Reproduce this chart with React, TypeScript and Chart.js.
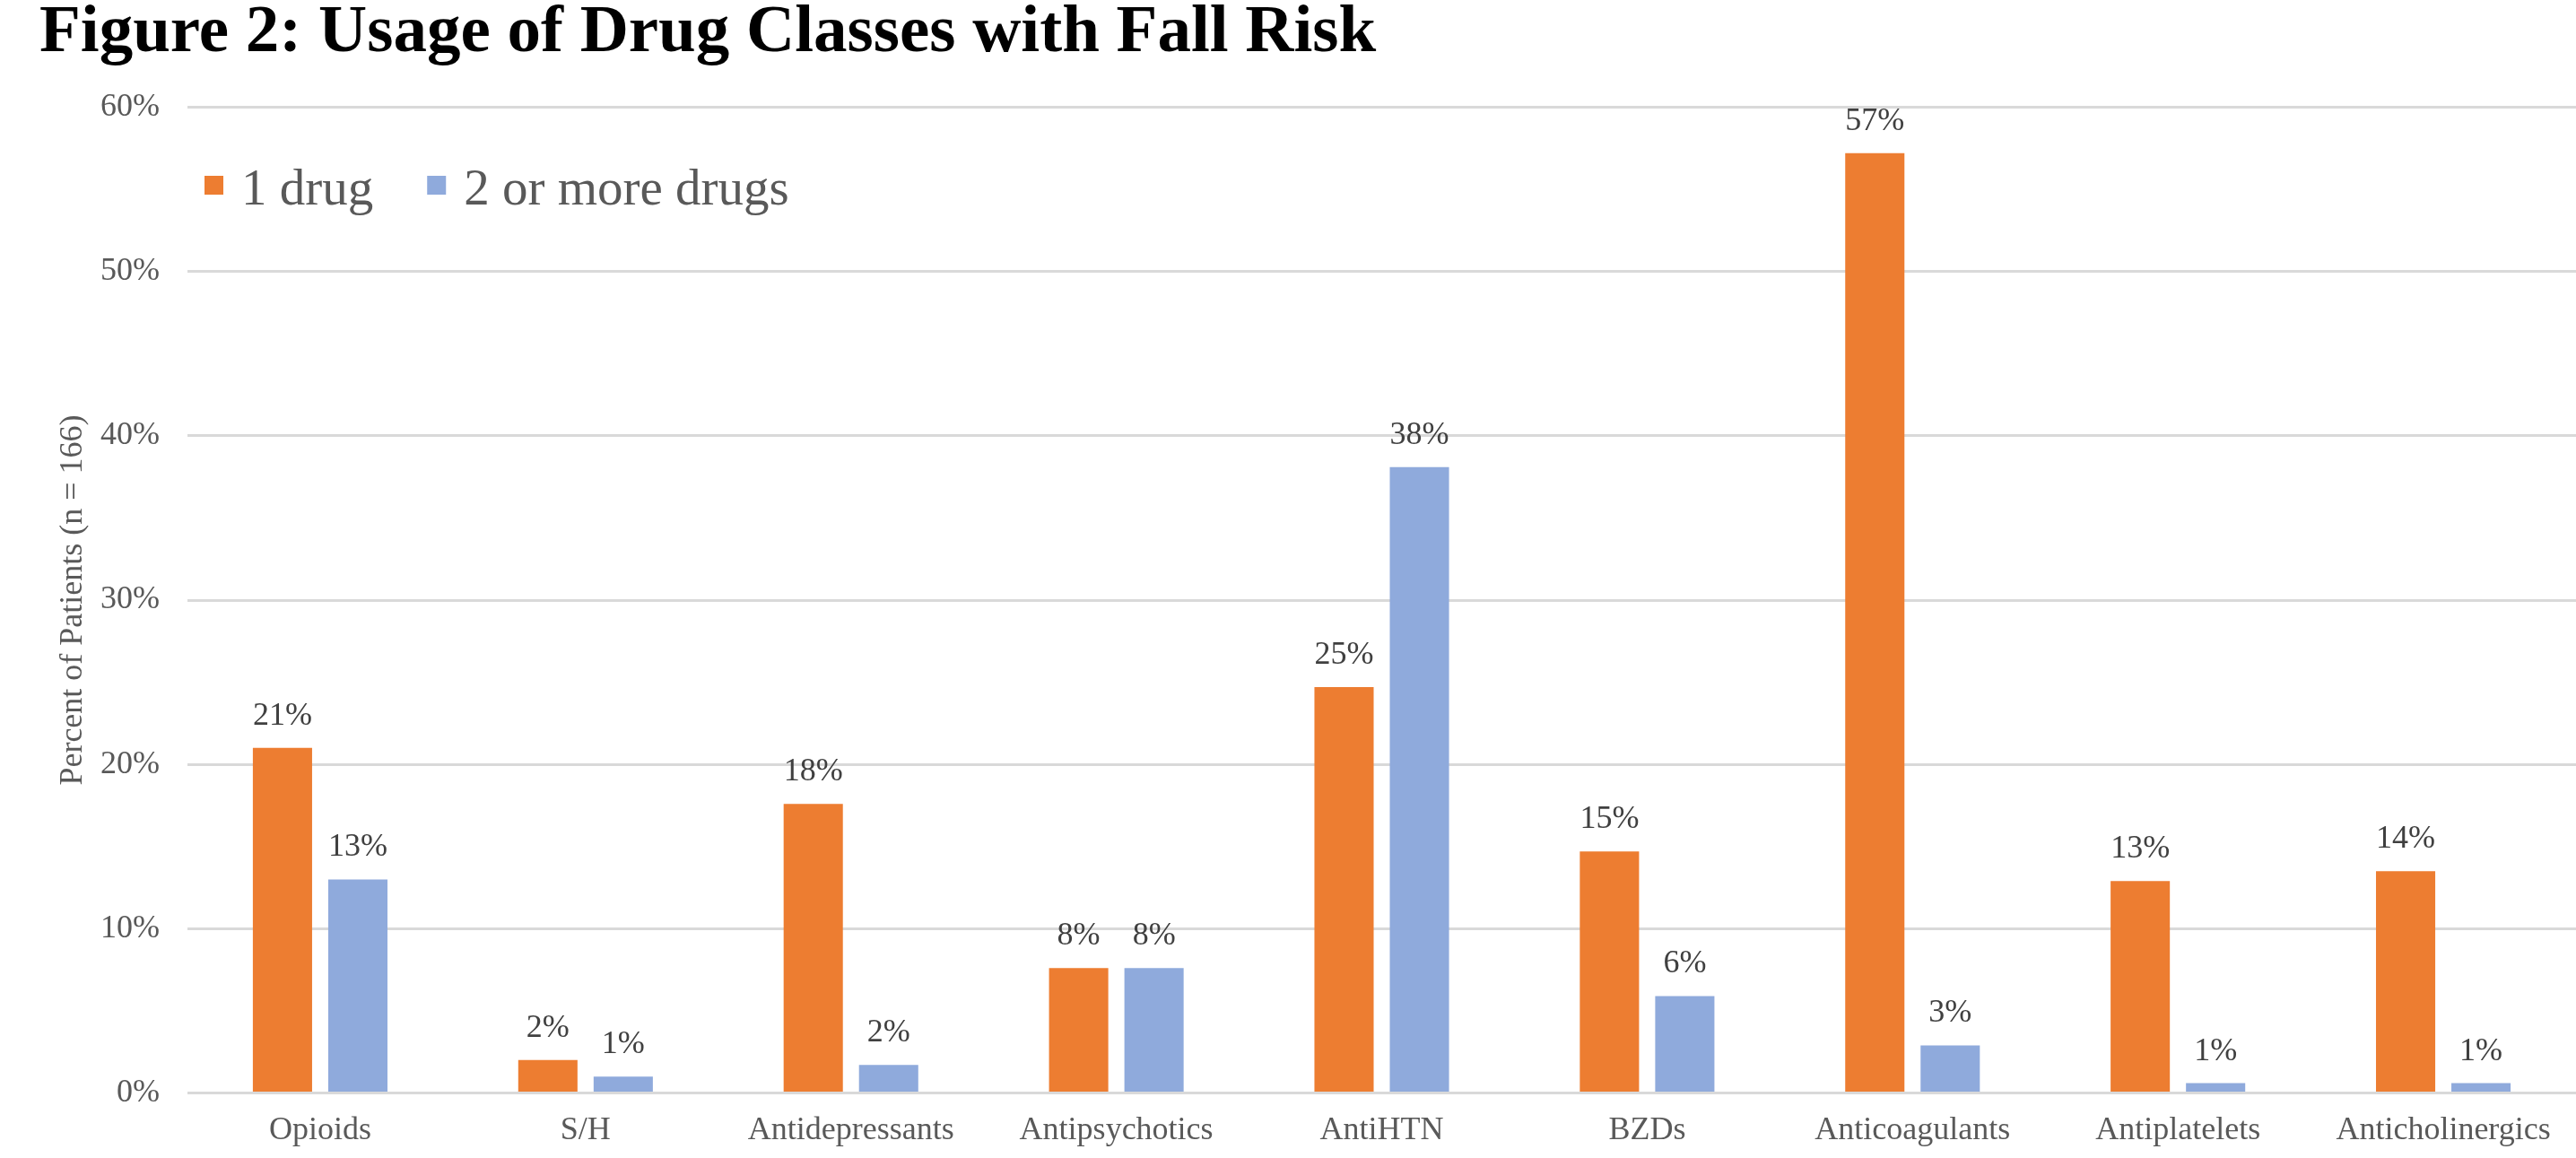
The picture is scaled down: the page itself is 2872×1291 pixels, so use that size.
import React, { useEffect, useRef } from 'react';
import { Chart, registerables } from 'chart.js';

Chart.register(...registerables);

// Drug classes on the category axis
const categories = [
  'Opioids',
  'S/H',
  'Antidepressants',
  'Antipsychotics',
  'AntiHTN',
  'BZDs',
  'Anticoagulants',
  'Antiplatelets',
  'Anticholinergics',
];

// Percent of patients (n = 166) per drug class
const oneDrug = [21.0, 2.0, 17.6, 7.6, 24.7, 14.7, 57.2, 12.9, 13.5];
const twoOrMoreDrugs = [13.0, 1.0, 1.7, 7.6, 38.1, 5.9, 2.9, 0.6, 0.6];

const seriesLabels = ['1 drug', '2 or more drugs'];
const seriesColors = ['#ED7D31', '#8FAADC'];

const yMin = 0;
const yMax = 60;
const yStep = 10;

const titleText = 'Figure 2: Usage of Drug Classes with Fall Risk';
const yAxisTitle = 'Percent of Patients (n = 166)';

const FONT = "'Liberation Serif', 'Times New Roman', Times, serif";
const TEXT_GRAY = '#595959';
const LABEL_GRAY = '#404040';

const fmtPct = (v: number) => `${Math.round(v)}%`;

// Legend drawn inside the plot area, items laid out side by side
const insideLegend = {
  id: 'insideLegend',
  afterDraw(chart: any, _args: any, opts: any) {
    const { ctx, chartArea } = chart;
    ctx.save();
    ctx.font = `${opts.fontSize}px ${FONT}`;
    ctx.textBaseline = 'alphabetic';
    ctx.textAlign = 'left';
    let x = chartArea.left + opts.offsetX;
    const y = chartArea.top + opts.offsetY;
    chart.data.datasets.forEach((ds: any) => {
      ctx.fillStyle = ds.backgroundColor;
      ctx.fillRect(x, y, opts.boxSize, opts.boxSize);
      x += opts.boxSize + opts.boxGap;
      ctx.fillStyle = opts.color;
      ctx.fillText(ds.label, x, y + opts.baseline);
      x += ctx.measureText(ds.label).width + opts.itemGap;
    });
    ctx.restore();
  },
};

// Percentage labels above each bar
const barValueLabels = {
  id: 'barValueLabels',
  afterDatasetsDraw(chart: any, _args: any, opts: any) {
    const { ctx } = chart;
    ctx.save();
    ctx.font = `${opts.fontSize}px ${FONT}`;
    ctx.fillStyle = opts.color;
    ctx.textAlign = 'center';
    ctx.textBaseline = 'alphabetic';
    chart.data.datasets.forEach((ds: any, i: number) => {
      const meta = chart.getDatasetMeta(i);
      meta.data.forEach((bar: any, j: number) => {
        ctx.fillText(fmtPct(ds.data[j]), bar.x, bar.y - opts.gap);
      });
    });
    ctx.restore();
  },
};

export default function App() {
  const canvasRef = useRef<HTMLCanvasElement | null>(null);

  useEffect(() => {
    document.body.style.margin = '0';
    document.body.style.overflow = 'hidden';
    const canvas = canvasRef.current;
    if (!canvas) return;

    const chart = new Chart(canvas, {
      type: 'bar',
      data: {
        labels: categories,
        datasets: [
          {
            label: seriesLabels[0],
            data: oneDrug,
            backgroundColor: seriesColors[0],
            borderWidth: 0,
            categoryPercentage: 0.568,
            barPercentage: 0.786,
          },
          {
            label: seriesLabels[1],
            data: twoOrMoreDrugs,
            backgroundColor: seriesColors[1],
            borderWidth: 0,
            categoryPercentage: 0.568,
            barPercentage: 0.786,
          },
        ],
      },
      options: {
        responsive: false,
        animation: false,
        devicePixelRatio: 1,
        layout: { padding: { left: 44, right: 0, top: 0, bottom: 0 } },
        font: { family: FONT },
        plugins: {
          legend: { display: false },
          tooltip: { enabled: false },
          title: {
            display: true,
            text: titleText,
            align: 'start',
            color: '#000000',
            font: { family: FONT, size: 75, weight: 'bold', lineHeight: 1 },
            padding: { top: 0, bottom: 44.5 },
          },
          insideLegend: {
            fontSize: 57,
            color: TEXT_GRAY,
            offsetX: 19,
            offsetY: 76.5,
            boxSize: 21,
            boxGap: 20,
            baseline: 32,
            itemGap: 60,
          },
          barValueLabels: { fontSize: 36, color: LABEL_GRAY, gap: 26 },
        } as any,
        scales: {
          x: {
            grid: { display: false, drawTicks: false },
            border: { display: false },
            ticks: {
              color: TEXT_GRAY,
              font: { family: FONT, size: 36 },
              padding: 20,
              maxRotation: 0,
              autoSkip: false,
            },
            afterFit: (scale: any) => {
              scale.height = 72.5;
            },
          },
          y: {
            min: yMin,
            max: yMax,
            grid: { color: '#D9D9D9', lineWidth: 3, drawTicks: false },
            border: { display: false },
            ticks: {
              stepSize: yStep,
              color: TEXT_GRAY,
              font: { family: FONT, size: 36 },
              padding: 31,
              callback: (v: any) => `${v}%`,
            },
            title: {
              display: true,
              text: yAxisTitle,
              color: TEXT_GRAY,
              font: { family: FONT, size: 36 },
              padding: { top: 16, bottom: 0 },
            },
            afterFit: (scale: any) => {
              scale.width = 165;
            },
          },
        },
      },
      plugins: [insideLegend, barValueLabels],
    });

    return () => chart.destroy();
  }, []);

  return (
    <canvas
      ref={canvasRef}
      width={2872}
      height={1291}
      style={{ display: 'block', width: '2872px', height: '1291px' }}
    />
  );
}
